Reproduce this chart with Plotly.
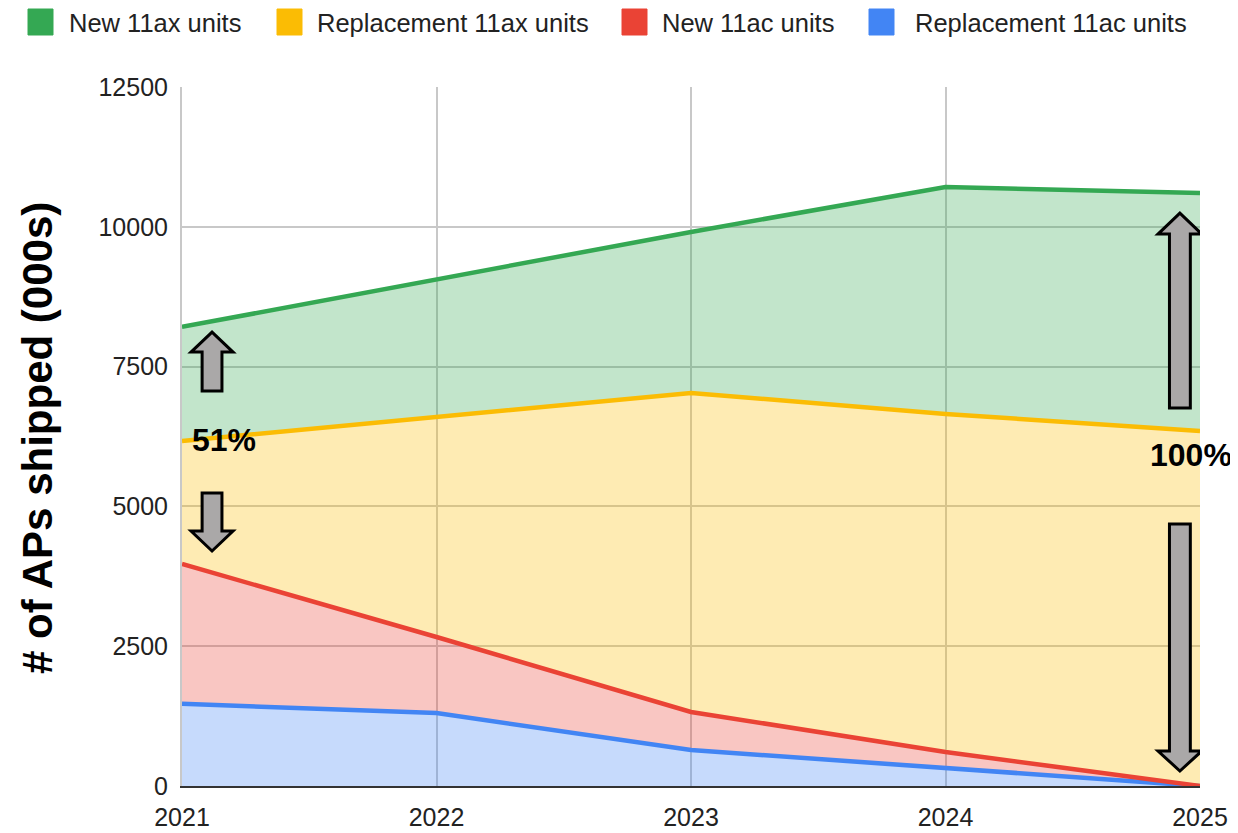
import plotly.graph_objects as go

years = [2021, 2022, 2023, 2024, 2025]
replacement_11ac = [1470, 1305, 644, 322, 0]
new_11ac = [2500, 1360, 680, 286, 0]
replacement_11ax = [2200, 3935, 5705, 6044, 6348]
new_11ax = [2040, 2468, 2879, 4060, 4256]
y_ticks = [0, 2500, 5000, 7500, 10000, 12500]

series = [
    ("Replacement 11ac units", replacement_11ac, "#4285f4", "rgba(66,133,244,0.30)"),
    ("New 11ac units", new_11ac, "#ea4335", "rgba(234,67,53,0.30)"),
    ("Replacement 11ax units", replacement_11ax, "#fbbc04", "rgba(251,188,4,0.30)"),
    ("New 11ax units", new_11ax, "#34a853", "rgba(52,168,83,0.30)"),
]

FONT = "Liberation Sans, Arial, sans-serif"

# plot area in screen pixels (used to place legend/title in paper coords)
PL, PR, PT, PB = 182, 1200, 87, 786


def px2paper_x(px):
    return (px - PL) / (PR - PL)


def px2paper_y(py):
    return (PB - py) / (PB - PT)


fig = go.Figure()
for name, vals, line_c, fill_c in series:
    fig.add_trace(go.Scatter(
        x=years, y=vals, name=name, mode="lines", stackgroup="one",
        line=dict(color=line_c, width=4.5), fillcolor=fill_c, showlegend=False,
    ))


def block_arrow(xc, y_tail, y_base, y_tip, shaft_hw, head_hw):
    p = (f"M{xc - shaft_hw},{y_tail} L{xc + shaft_hw},{y_tail} "
         f"L{xc + shaft_hw},{y_base} L{xc + head_hw},{y_base} "
         f"L{xc},{y_tip} L{xc - head_hw},{y_base} L{xc - shaft_hw},{y_base} Z")
    return dict(type="path", path=p, xref="x", yref="y",
                fillcolor="#aaa8a8", line=dict(color="black", width=3), layer="above")


shapes = [
    block_arrow(2021.118, 7063, 7760, 8118, 0.039, 0.0825),
    block_arrow(2021.118, 5239, 4560, 4202, 0.039, 0.0825),
    block_arrow(2024.921, 6759, 9870, 10245, 0.041, 0.086),
    block_arrow(2024.921, 4685, 626, 268, 0.041, 0.086),
]

annotations = [
    dict(x=2021.165, y=6187, text="<b>51%</b>", showarrow=False, xref="x", yref="y",
         font=dict(family=FONT, size=32, color="black")),
    dict(x=2024.965, y=5918, text="<b>100%</b>", showarrow=False, xref="x", yref="y",
         font=dict(family=FONT, size=32, color="black")),
    dict(x=px2paper_x(38), y=px2paper_y(438), xref="paper", yref="paper", textangle=-90,
         xanchor="center", yanchor="middle",
         text="<b># of APs shipped (000s)</b>", showarrow=False,
         font=dict(family=FONT, size=42, color="black")),
]

# legend (top row): swatch + label, in legend order
legend_order = list(reversed(series))
swatch_left = [28, 277, 622, 869]
label_left = [70, 318, 663, 916]
for (name, vals, line_c, fill_c), sl, tl in zip(legend_order, swatch_left, label_left):
    shapes.append(dict(type="rect", xref="paper", yref="paper",
                       x0=px2paper_x(sl), x1=px2paper_x(sl + 25),
                       y0=px2paper_y(35), y1=px2paper_y(9),
                       fillcolor=line_c, line=dict(color=line_c, width=1)))
    annotations.append(dict(x=px2paper_x(tl - 2), y=px2paper_y(23), xref="paper", yref="paper",
                            xanchor="left", yanchor="middle", showarrow=False, text=name,
                            borderpad=0,
                            font=dict(family=FONT, size=25.5, color="#222222")))

# page body has an 8px margin; figure is sized to fit the 1238x833 window
fig.update_layout(
    width=1230, height=825,
    margin=dict(l=174, r=38, t=79, b=47, autoexpand=False),
    paper_bgcolor="white", plot_bgcolor="white",
    font=dict(family=FONT, size=25, color="#222222"),
    shapes=shapes, annotations=annotations,
    showlegend=False,
    xaxis=dict(range=[2021, 2025], tickvals=years, ticktext=[str(y) for y in years],
               showgrid=True, gridcolor="#c8c8c8", gridwidth=2, zeroline=False,
               showline=True, linecolor="#333333", linewidth=2, mirror=False,
               ticks="", tickfont=dict(size=25), ticklabelstandoff=8, automargin=False),
    yaxis=dict(range=[0, 12500], tickvals=y_ticks, ticktext=[str(v) for v in y_ticks],
               showgrid=True, gridcolor="#c8c8c8", gridwidth=2, zeroline=False,
               showline=True, linecolor="#c8c8c8", linewidth=2,
               ticks="", tickfont=dict(size=25), ticklabelstandoff=7, automargin=False),
)

fig.write_html("out.html")
